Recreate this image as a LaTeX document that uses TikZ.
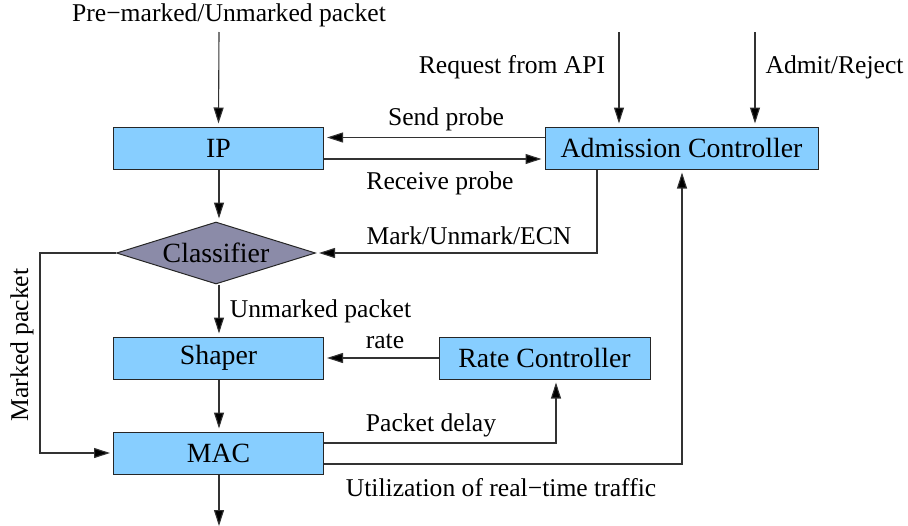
\documentclass[tikz,border=0pt]{standalone}
\usepackage{fontspec}
\setmainfont{Liberation Serif}
\usetikzlibrary{arrows.meta,shapes.geometric,calc}
\definecolor{boxblue}{RGB}{135,206,255}
\definecolor{clsgray}{RGB}{139,139,168}
\definecolor{linegray}{RGB}{50,50,50}
\tikzset{
  blockbox/.style={draw=black!85, fill=boxblue, line width=1pt, rectangle, inner sep=0pt,
    minimum height=42pt, font=\fontsize{27.8}{32}\selectfont},
  decide/.style={draw=black!85, fill=clsgray, line width=1pt, diamond, aspect=3.2, inner sep=0pt,
    minimum width=199pt, minimum height=62pt, font=\fontsize{27.8}{32}\selectfont},
  lbl/.style={inner sep=0pt, font=\fontsize{25.6}{30}\selectfont},
  arr/.style={draw=linegray, line width=1.1pt, -{Triangle[length=16pt,width=10pt,fill=black]}, shorten >=3pt},
}
\begin{document}
\begin{tikzpicture}[x=1pt,y=-1pt]
\useasboundingbox (0,0) rectangle (908,525);
% blocks
\node[blockbox, minimum width=210pt] (ip) at (218.5,148) {IP};
\node[blockbox, minimum width=273pt] (ac) at (681.5,148) {Admission Controller};
\node[decide] (cls) at (216,253) {Classifier};
\node[blockbox, minimum width=210pt] (sh) at (218.5,358) {Shaper};
\node[blockbox, minimum width=211pt] (rc) at (544.5,358) {Rate Controller};
\node[blockbox, minimum width=210pt] (mac) at (218.5,453) {MAC};
% free ends
\coordinate (intop) at (219,32);
\coordinate (reqtop) at (619,32);
\coordinate (admtop) at (755,32);
\coordinate (mk) at (40,253);
\coordinate (outbot) at (219,526);
% labels
\node[lbl] (tpre) at (229,15) {Pre−marked/Unmarked packet};
\node[lbl] (treq) at (512,67) {Request from API};
\node[lbl] (tadm) at (834.5,67) {Admit/Reject};
\node[lbl] (tsend) at (446,119) {Send probe};
\node[lbl] (trecv) at (440,183) {Receive probe};
\node[lbl] (tmark) at (469,236) {Mark/Unmark/ECN};
\node[lbl] (tunm) at (320.5,311) {Unmarked packet};
\node[lbl] (trate) at (385,341) {rate};
\node[lbl] (tdel) at (431,425) {Packet delay};
\node[lbl] (tutil) at (501,488) {Utilization of real−time traffic};
\node[lbl, rotate=90] (tmkd) at (22,345) {Marked packet};
% connectors
\draw[arr] (intop) -- (ip.north);
\draw[arr] (reqtop) -- (reqtop |- ac.north);
\draw[arr] (admtop) -- (admtop |- ac.north);
\draw[arr] ([yshift=10.5pt]ac.west) -- ([yshift=10.5pt]ip.east);
\draw[arr] ([yshift=-11pt]ip.east) -- ([yshift=-11pt]ac.west);
\draw[arr] (ip.south -| 219,0) -- (cls.north -| 219,0);
\draw[arr] ([xshift=-84.5pt]ac.south) |- (cls.east);
\draw[arr] (cls.west) -- (mk) |- (mac.west);
\draw[arr] (cls.south -| 219,0) -- (sh.north -| 219,0);
\draw[arr] (rc.west) -- (sh.east);
\draw[arr] (sh.south -| 219,0) -- (mac.north -| 219,0);
\draw[arr] ([yshift=10pt]mac.east) -| ([xshift=11.5pt]rc.south);
\draw[arr] ([yshift=-11pt]mac.east) -| ([xshift=0.5pt]ac.south);
\draw[arr, shorten >=0pt] (mac.south -| 219,0) -- (outbot);
\end{tikzpicture}
\end{document}
